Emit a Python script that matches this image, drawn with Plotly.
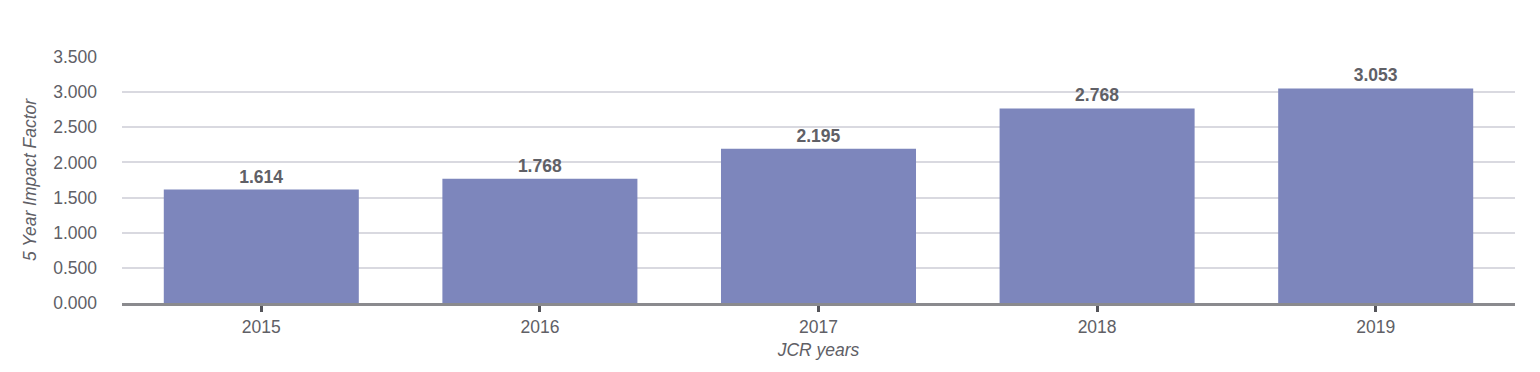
import plotly.graph_objects as go

years = ["2015", "2016", "2017", "2018", "2019"]
impact_5yr = [1.614, 1.768, 2.195, 2.768, 3.053]
y_ticks = [0, 0.5, 1.0, 1.5, 2.0, 2.5, 3.0, 3.5]

FONT = "Liberation Sans, Arial"
TXT = "#606066"

fig = go.Figure(go.Bar(
    x=years, y=impact_5yr,
    marker=dict(color="#7D86BC", line=dict(width=0)),
    text=[f"{v:.3f}" for v in impact_5yr],
    textposition="outside",
    textfont=dict(family=FONT, size=17.5, color=TXT, weight="bold"),
    cliponaxis=False,
    hoverinfo="skip",
))

fig.update_layout(
    width=1532, height=364,
    margin=dict(l=114, r=25, t=49, b=69),
    plot_bgcolor="white", paper_bgcolor="white",
    bargap=0.3,
    showlegend=False,
    font=dict(family=FONT, size=17.5, color=TXT),
    xaxis=dict(
        type="category",
        showgrid=False,
        showline=True, linecolor="#8A8A8E", linewidth=3,
        ticks="outside", ticklen=6, tickwidth=3, tickcolor="#55555A",
        tickfont=dict(size=17.5, color=TXT),
        title=dict(text="<i>JCR years</i>", font=dict(size=17.5, color=TXT), standoff=8),
    ),
    yaxis=dict(
        range=[0, 3.5],
        tickvals=y_ticks,
        tickformat=".3f",
        showgrid=True, gridcolor="#D9D9E0", gridwidth=1.5,
        zeroline=False,
        showline=False,
        ticks="",
        ticklabelstandoff=24,
        tickfont=dict(size=17.5, color=TXT),
        title=dict(text="<i>5 Year Impact Factor</i>", font=dict(size=17.5, color=TXT), standoff=12),
    ),
    shapes=[dict(type="line", xref="paper", yref="y", x0=0, x1=1, y0=3.5, y1=3.5,
                 line=dict(color="white", width=3), layer="above")],
)

fig.write_html("out.html")
